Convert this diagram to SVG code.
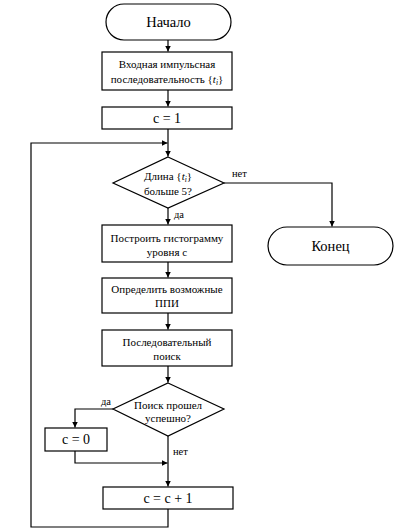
<svg xmlns="http://www.w3.org/2000/svg" width="406" height="532" viewBox="0 0 406 532" font-family="'Liberation Serif', 'DejaVu Serif', serif">
<style>
text{font-family:'Liberation Serif','Times New Roman',serif}
.s{fill:#fff;stroke:#000;stroke-width:1.2}
.t{font-size:11px;fill:#000;text-anchor:middle}
.b{font-size:14.5px}
.m{font-size:14px}
.l{font-size:10.5px;fill:#000}
.c{fill:none;stroke:#000;stroke-width:1.2}
.i{font-style:italic}
</style>
<defs>
<marker id="a" markerWidth="7" markerHeight="7" refX="6" refY="3.5" orient="auto" markerUnits="userSpaceOnUse">
<path d="M0,0.5 L6,3.5 L0,6.5 Z" fill="#000"/>
</marker>
</defs>
<rect width="406" height="532" fill="#fff"/>
<g id="connectors">
<path class="c" d="M168,40 V51.5" marker-end="url(#a)"/>
<path class="c" d="M168,90 V106.5" marker-end="url(#a)"/>
<path class="c" d="M168,129 V156.5" marker-end="url(#a)"/>
<path class="c" d="M224,183 H332 V226.5" marker-end="url(#a)"/>
<path class="c" d="M168,208 V224.5" marker-end="url(#a)"/>
<path class="c" d="M168,262 V277.5" marker-end="url(#a)"/>
<path class="c" d="M168,313 V329.5" marker-end="url(#a)"/>
<path class="c" d="M168,366 V382.5" marker-end="url(#a)"/>
<path class="c" d="M113,409 H75 V427.5" marker-end="url(#a)"/>
<path class="c" d="M75,451 V463 H167.5" marker-end="url(#a)"/>
<path class="c" d="M168,436 V486.5" marker-end="url(#a)"/>
<path class="c" d="M168,509 V527 H31 V143 H167.5" marker-end="url(#a)"/>
<text class="l" x="232" y="177">нет</text>
<text class="l" x="174" y="218">да</text>
<text class="l" x="101" y="405">да</text>
<text class="l" x="173" y="455">нет</text>
</g>
<g id="start">
<rect class="s" x="106" y="4" width="125" height="36" rx="18"/>
<text class="t b" x="168.5" y="27">Начало</text>
</g>
<g id="input">
<rect class="s" x="102" y="52" width="130" height="38"/>
<text class="t" x="167" y="68">Входная импульсная</text>
<text class="t" x="167" y="83">последовательность {<tspan class="i">t</tspan><tspan class="i" font-size="7.5" dy="2">i</tspan><tspan dy="-2">}</tspan></text>
</g>
<g id="c1">
<rect class="s" x="102" y="107" width="130" height="22"/>
<text class="t m" x="167" y="123">c = 1</text>
</g>
<g id="cond1">
<polygon class="s" points="168,157 224,183 168,208 113,183"/>
<text class="t" x="168" y="180">Длина {<tspan class="i">t</tspan><tspan class="i" font-size="7.5" dy="2">i</tspan><tspan dy="-2">}</tspan></text>
<text class="t" x="168" y="195">больше 5?</text>
</g>
<g id="end">
<rect class="s" x="268" y="227" width="125" height="38" rx="19"/>
<text class="t b" x="330.5" y="251">Конец</text>
</g>
<g id="hist">
<rect class="s" x="102" y="225" width="130" height="37"/>
<text class="t" x="167" y="242">Построить гистограмму</text>
<text class="t" x="167" y="256">уровня с</text>
</g>
<g id="ppi">
<rect class="s" x="102" y="278" width="130" height="35"/>
<text class="t" x="167" y="293">Определить возможные</text>
<text class="t" x="167" y="307">ППИ</text>
</g>
<g id="search">
<rect class="s" x="102" y="330" width="130" height="36"/>
<text class="t" x="167" y="346">Последовательный</text>
<text class="t" x="167" y="360">поиск</text>
</g>
<g id="cond2">
<polygon class="s" points="168,383 224,409 168,436 113,409"/>
<text class="t" x="168" y="409">Поиск прошел</text>
<text class="t" x="168" y="422">успешно?</text>
</g>
<g id="c0">
<rect class="s" x="45" y="428" width="62" height="23"/>
<text class="t m" x="76" y="444">c = 0</text>
</g>
<g id="inc">
<rect class="s" x="103" y="487" width="130" height="22"/>
<text class="t m" x="168" y="503">c = c + 1</text>
</g>
</svg>
